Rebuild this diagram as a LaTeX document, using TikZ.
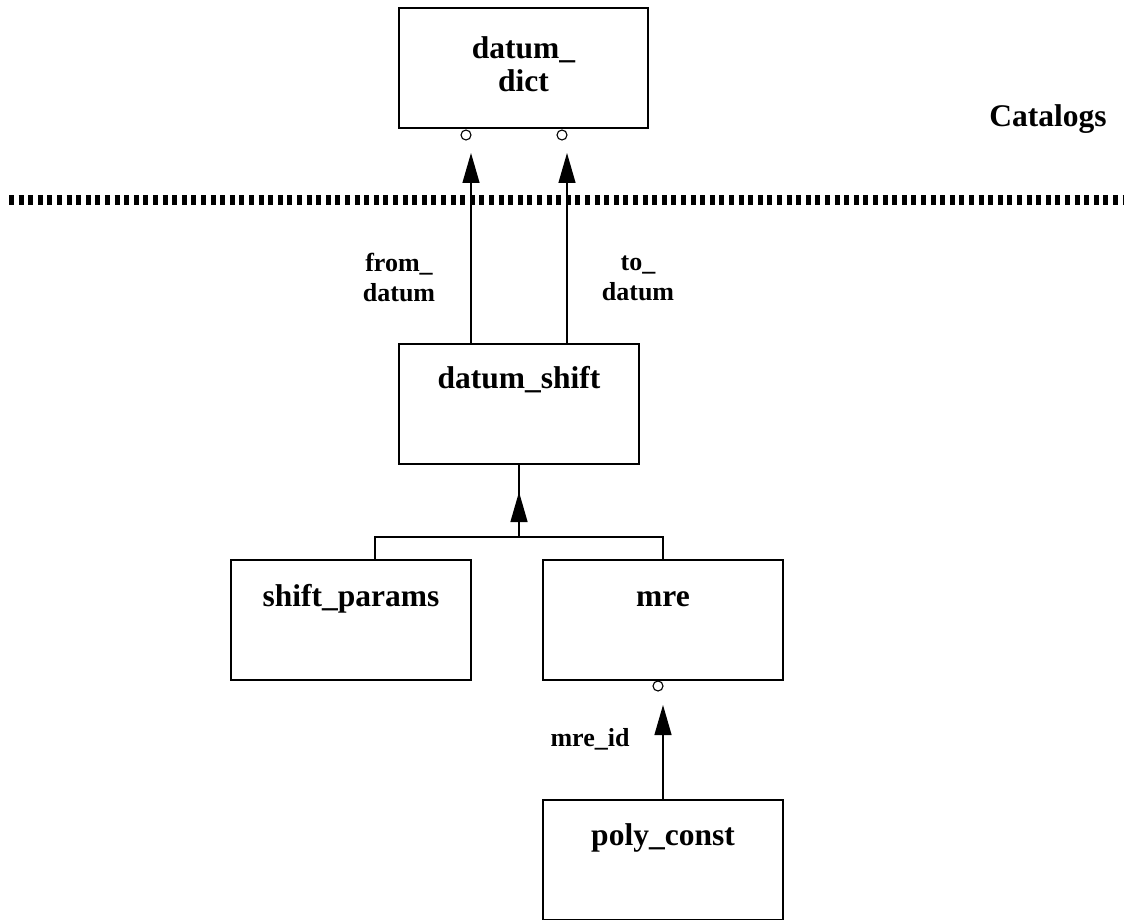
\documentclass[tikz,border=0pt]{standalone}
\usepackage{fontspec}
\setmainfont{Liberation Serif}
\usetikzlibrary{arrows.meta,calc}
\begin{document}
\begin{tikzpicture}[x=1pt,y=-1pt,
  entity/.style={draw,line width=1.3pt,rectangle,inner sep=0pt,minimum height=120pt},
  entname/.style={font=\fontsize{31.5}{33}\selectfont\bfseries,align=center,inner sep=0pt},
  role/.style={font=\fontsize{26}{30}\selectfont\bfseries,align=center,inner sep=0pt},
  link/.style={line width=1.3pt},
  reflink/.style={link,-{Triangle[length=30pt,width=17pt]}},
  optmark/.style={draw,circle,line width=1.1pt,minimum size=10pt,inner sep=0pt,fill=white}]
\useasboundingbox (0,0) rectangle (1124,920);

% catalog layer
\node[entity,minimum width=249pt] (dd) at (523.5,68) {};
\node[entname] (ddt) at (523.5,64) {datum\_\\dict};
\node[entname,anchor=base] (cat) at (1048,127) {Catalogs};

% layer divider
\coordinate (divl) at (9,200);
\coordinate (divr) at (1124,200);
\draw[line width=10pt,dash pattern=on 5pt off 4.6pt] (divl) -- (divr);

% entities
\node[entity,minimum width=240pt] (ds) at (519,404) {};
\node[entname,anchor=base] (dst) at (519,388) {datum\_shift};
\node[entity,minimum width=240pt] (sp) at (351,620) {};
\node[entname,anchor=base] (spt) at (351,606) {shift\_params};
\node[entity,minimum width=240pt] (mre) at (663,620) {};
\node[entname,anchor=base] (mret) at (663,606) {mre};
\node[entity,minimum width=240pt] (pc) at (663,860) {};
\node[entname,anchor=base] (pct) at (663,845) {poly\_const};

% optionality marks
\node[optmark] (o1) at (466,135) {};
\node[optmark] (o2) at (562,135) {};
\node[optmark] (o3) at (658,686) {};

% references to datum_dict
\coordinate (a1) at (471,153);
\coordinate (a2) at (567,153);
\draw[reflink] (ds.north -| a1) -- (a1);
\draw[reflink] (ds.north -| a2) -- (a2);
\node[role] (lfrom) at (399,278) {from\_\\datum};
\node[role] (lto) at (638,278) {to\_\\datum};

% subtype junction
\coordinate (j) at (519,537);
\coordinate (jl) at (375,537);
\coordinate (jr) at (663,537);
\coordinate (jt) at (519,492);
\draw[link] (sp.north -| jl) -- (jl) -- (jr) -- (mre.north);
\draw[link] (j) -- (ds.south);
\draw[reflink] (j) -- (jt);

% reference to mre
\coordinate (a3) at (663,705);
\draw[reflink] (pc.north) -- (a3);
\node[role,anchor=base] (lmre) at (590,746) {mre\_id};
\end{tikzpicture}
\end{document}
